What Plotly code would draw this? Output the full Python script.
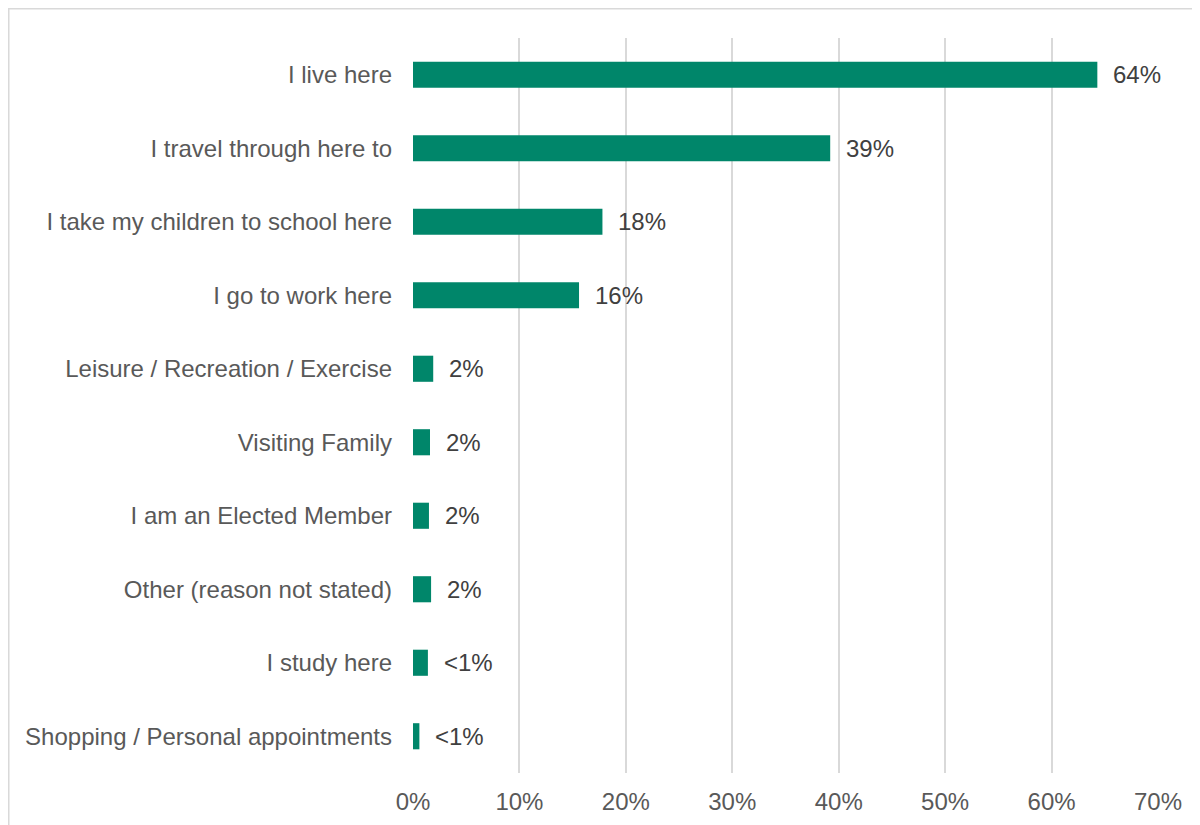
import plotly.graph_objects as go

categories = [
    "I live here",
    "I travel through here to",
    "I take my children to school here",
    "I go to work here",
    "Leisure / Recreation / Exercise",
    "Visiting Family",
    "I am an Elected Member",
    "Other (reason not stated)",
    "I study here",
    "Shopping / Personal appointments",
]
values = [64.3, 39.2, 17.8, 15.6, 1.9, 1.6, 1.5, 1.7, 1.4, 0.6]
value_labels = ["64%", "39%", "18%", "16%", "2%", "2%", "2%", "2%", "<1%", "<1%"]
tick_values = [0, 10, 20, 30, 40, 50, 60, 70]
tick_labels = ["0%", "10%", "20%", "30%", "40%", "50%", "60%", "70%"]

FONT = "Arial, 'Liberation Sans', sans-serif"
BAR = "#00866A"

fig = go.Figure()
fig.add_trace(go.Bar(
    x=values, y=categories, orientation="h",
    marker=dict(color=BAR, line=dict(width=0)),
    width=0.355, hoverinfo="skip",
))

for c, v, t in zip(categories, values, value_labels):
    fig.add_annotation(x=v, y=c, text=t, showarrow=False, xanchor="left",
                       yanchor="middle", xshift=14,
                       font=dict(family=FONT, size=24, color="#404040"))

# outer chart border (figure edge)
fig.add_shape(type="rect", xref="paper", yref="paper",
              x0=-0.5426, x1=1.2, y0=-0.2, y1=1.0398,
              line=dict(color="#d9d9d9", width=1.5), fillcolor="rgba(0,0,0,0)",
              layer="below")

fig.update_layout(
    width=1200, height=825,
    margin=dict(l=405, r=50, t=30, b=60),
    paper_bgcolor="white", plot_bgcolor="white",
    showlegend=False,
    font=dict(family=FONT, size=24, color="#595959"),
    xaxis=dict(range=[0, 70], tickvals=tick_values, ticktext=tick_labels,
               showgrid=True, gridcolor="#d9d9d9", gridwidth=1.5,
               zeroline=False, showline=False, ticks="", ticklabelstandoff=12,
               tickfont=dict(size=24, color="#595959"), fixedrange=True),
    yaxis=dict(autorange="reversed", showgrid=False, zeroline=False,
               showline=False, ticks="", ticklabelstandoff=20,
               tickfont=dict(size=24, color="#595959"), fixedrange=True),
)

fig.write_html("out.html")
